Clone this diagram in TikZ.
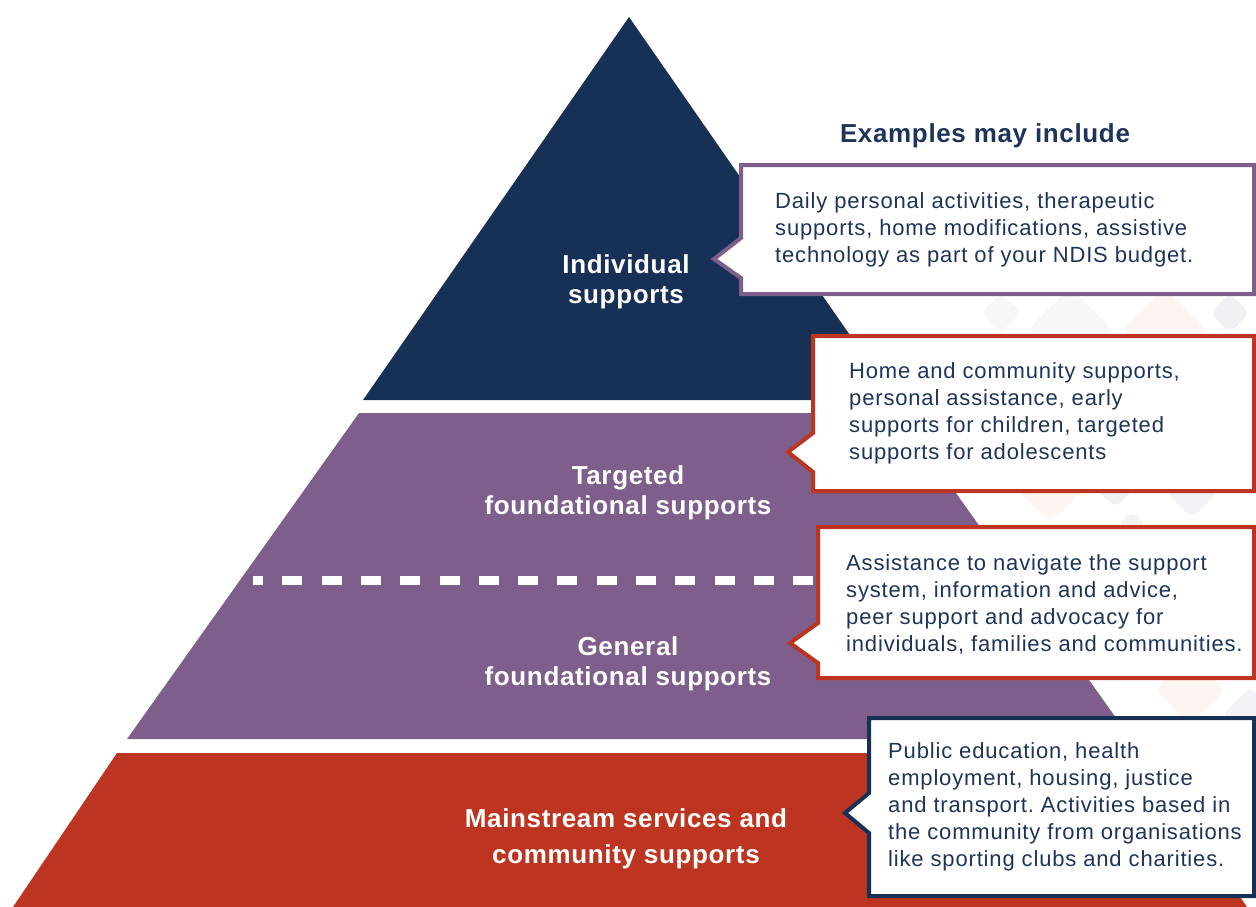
\documentclass[tikz,border=0pt]{standalone}
\usepackage{fontspec}
\setmainfont{Liberation Sans}
\newfontfamily\bodyfont[LetterSpace=3.8]{Liberation Sans}
\newfontfamily\labelfont[LetterSpace=2.5]{Liberation Sans}
\frenchspacing
\definecolor{navy}{HTML}{173156}
\definecolor{plum}{HTML}{7E5F8B}
\definecolor{brick}{HTML}{BD3520}
\definecolor{ink}{HTML}{1E3459}
\definecolor{faintgray}{HTML}{EEF0F4}
\definecolor{fainterg}{HTML}{F6F7F9}
\definecolor{faintpeach}{HTML}{FDF5F1}
\definecolor{faintlilac}{HTML}{F4F2F7}
\tikzset{
  tierlabel/.style={text=white, font=\labelfont\fontsize{26}{30}\selectfont\bfseries, align=center},
  callouttext/.style={text=ink, font=\bodyfont\frenchspacing\fontsize{22}{27}\selectfont, align=left, anchor=west, inner sep=0pt},
  callout/.style={fill=white, line width=4pt, line join=miter},
  faint/.style={rounded corners=8pt},
}
\begin{document}
\begin{tikzpicture}[x=1pt,y=-1pt]
\useasboundingbox (0,0) rectangle (1256,907);
% faint background diamonds
\fill[fainterg, faint, rotate around={45:(1001,313)}] (987,299) rectangle (1015,327);
\fill[faintgray, faint, rotate around={45:(1230,313)}] (1216,299) rectangle (1244,327);
\fill[fainterg, faint, rotate around={45:(1070,330)}] (1040,300) rectangle (1100,360);
\fill[faintpeach, faint, rotate around={45:(1165,330)}] (1135,300) rectangle (1195,360);
\fill[faintpeach, faint, rotate around={45:(1050,480)}] (1020,450) rectangle (1080,510);
\fill[faintgray, faint, rotate around={45:(1115,488)}] (1101,474) rectangle (1129,502);
\fill[faintlilac, faint, rotate around={45:(1192,490)}] (1172,470) rectangle (1212,510);
\fill[faintlilac, faint, rotate around={45:(1132,525)}] (1122,515) rectangle (1142,535);
\fill[faintpeach, faint, rotate around={45:(1190,690)}] (1165,665) rectangle (1215,715);
\fill[faintlilac, faint, rotate around={45:(1250,715)}] (1230,695) rectangle (1270,735);
% pyramid tiers
\fill[navy] (629,17) -- (895,400) -- (363,400) -- cycle;
\fill[plum] (359,413) -- (899,413) -- (1131,739) -- (127,739) -- cycle;
\fill[brick] (117,753) -- (1141,753) -- (1247,907) -- (13,907) -- cycle;
% dashed divider
\coordinate (dashL) at (253,580);
\coordinate (dashR) at (818,580);
\draw[white, line width=9pt, dash pattern=on 20pt off 19.3pt, dash phase=10pt] (dashL) -- (dashR);
% tier labels
\node[tierlabel] (indiv) at (626,282) {Individual\\supports};
\node[tierlabel] (targ) at (628,493) {Targeted\\foundational supports};
\node[tierlabel] (gen) at (628,664) {General\\foundational supports};
\node[tierlabel, font=\labelfont\fontsize{26}{36}\selectfont\bfseries] (main) at (626,838.5) {Mainstream services and\\community supports};
% heading
\node[text=ink, font=\labelfont\fontsize{26}{30}\selectfont\bfseries] (head) at (985,136) {Examples may include};
% callout 1
\draw[callout, draw=plum] (741,165) -- (1254,165) -- (1254,294) -- (741,294) -- (741,278) -- (714,259) -- (741,238) -- cycle;
\node[callouttext] (c1) at (775,230) {Daily personal activities, therapeutic\\supports, home modifications, assistive\\technology as part of your NDIS budget.};
% callout 2
\draw[callout, draw=brick] (813,336) -- (1254,336) -- (1254,491) -- (813,491) -- (813,472) -- (788,452) -- (813,433) -- cycle;
\node[callouttext] (c2) at (849,413) {Home and community supports,\\personal assistance, early\\supports for children, targeted\\supports for adolescents};
% callout 3
\draw[callout, draw=brick] (818,527) -- (1254,527) -- (1254,678) -- (818,678) -- (818,663) -- (790,643) -- (818,623) -- cycle;
\node[callouttext] (c3) at (846,604) {Assistance to navigate the support\\system, information and advice,\\peer support and advocacy for\\individuals, families and communities.};
% callout 4
\draw[callout, draw=navy] (869,718) -- (1254,718) -- (1254,896) -- (869,896) -- (869,833) -- (845,813) -- (869,793) -- cycle;
\node[callouttext] (c4) at (888,807) {Public education, health\\employment, housing, justice\\and transport. Activities based in\\the community from organisations\\like sporting clubs and charities.};
\end{tikzpicture}
\end{document}
